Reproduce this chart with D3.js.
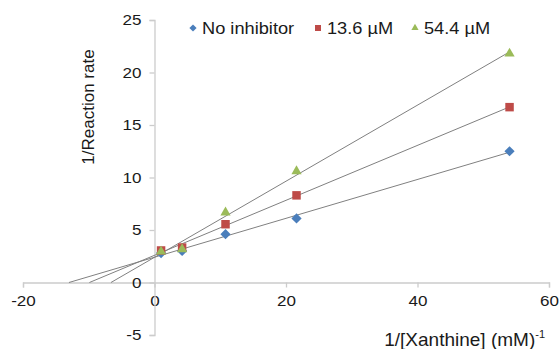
<!DOCTYPE html>
<html>
<head>
<meta charset="utf-8">
<script src="https://cdn.jsdelivr.net/npm/d3@7"></script>
<style>
  body { margin: 0; background: #fff; }
  svg { display: block; font-family: "Liberation Sans", Arial, sans-serif; }
</style>
</head>
<body>
<svg id="chart" width="560" height="349"></svg>
<script>
// ============= Data =============
const xValues = [1, 4.2, 10.8, 21.6, 54];
const noInhibitor = [2.8, 3.0, 4.6, 6.1, 12.5];
const inhib136 = [3.05, 3.33, 5.55, 8.3, 16.7];
const inhib544 = [2.95, 3.17, 6.67, 10.6, 21.8];
const seriesNames = ["No inhibitor", "13.6 µM", "54.4 µM"];
const xTicks = [-20, 0, 20, 40, 60];
const yTicks = [-5, 0, 5, 10, 15, 20, 25];

const COLORS = ["#4a7ebb", "#be4b48", "#9bbb59"];
const AXIS_COLOR = "#cccccc";
const TREND_COLOR = "#808080";
const TEXT_COLOR = "#1a1a1a";

const series = [noInhibitor, inhib136, inhib544].map((ys, i) => ({
  name: seriesNames[i],
  color: COLORS[i],
  points: xValues.map((x, j) => ({ x, y: ys[j] })),
}));

// least squares fit, used for the trend lines
const fitLine = (points) => {
  const mx = d3.mean(points, (d) => d.x);
  const my = d3.mean(points, (d) => d.y);
  const sxy = d3.sum(points, (d) => (d.x - mx) * (d.y - my));
  const sxx = d3.sum(points, (d) => (d.x - mx) ** 2);
  const slope = sxy / sxx;
  return { slope, intercept: my - slope * mx };
};

// the source picture is a little wider than tall, so text is stretched in x
const TICK_STRETCH = 1.1;
const LEGEND_STRETCH = 1.14;

// ============= Plot =============
const svg = d3.select("#chart");
const xScale = d3.scaleLinear().domain([-20, 60]).range([23, 549]);
const yScale = d3.scaleLinear().domain([-5, 25]).range([335, 20]);
const plainFormat = (d) => String(d);

// x axis along y = 0
const xAxis = svg
  .append("g")
  .attr("transform", `translate(0,${yScale(0)})`)
  .call(d3.axisBottom(xScale).tickValues(xTicks).tickSize(5).tickPadding(8).tickFormat(plainFormat));

// y axis along x = 0
const yAxis = svg
  .append("g")
  .attr("transform", `translate(${xScale(0)},0)`)
  .call(d3.axisLeft(yScale).tickValues(yTicks).tickSize(5).tickPadding(8).tickFormat(plainFormat));

[xAxis, yAxis].forEach((axis) => {
  axis.select(".domain").attr("stroke", AXIS_COLOR).attr("stroke-width", 1.3);
  axis.selectAll(".tick line").attr("stroke", AXIS_COLOR).attr("stroke-width", 1.3);
  axis
    .selectAll("text")
    .style("font-size", "15.5px")
    .attr("fill", TEXT_COLOR)
    .attr("transform", `scale(${TICK_STRETCH},1)`);
});
yAxis.selectAll(".tick text").attr("x", -13 / TICK_STRETCH);

// trend lines from the x intercept to the last point
series.forEach((s) => {
  const { slope, intercept } = fitLine(s.points);
  const x0 = -intercept / slope;
  const x1 = d3.max(s.points, (d) => d.x);
  svg
    .append("line")
    .attr("x1", xScale(x0))
    .attr("y1", yScale(0))
    .attr("x2", xScale(x1))
    .attr("y2", yScale(slope * x1 + intercept))
    .attr("stroke", TREND_COLOR)
    .attr("stroke-width", 1);
});

// diamond = square turned 45 degrees
const markers = [
  { type: d3.symbolSquare, size: 52, rotate: 45 },
  { type: d3.symbolSquare, size: 72, rotate: 0 },
  { type: d3.symbolTriangle, size: 45, rotate: 0 },
];

series.forEach((s, i) => {
  const m = markers[i];
  svg
    .append("g")
    .selectAll("path")
    .data(s.points)
    .enter()
    .append("path")
    .attr("d", d3.symbol().type(m.type).size(m.size))
    .attr("transform", (d) => `translate(${xScale(d.x)},${yScale(d.y)}) rotate(${m.rotate})`)
    .attr("fill", s.color);
});

// ============= Legend =============
const legendX = [193, 318, 415];
series.forEach((s, i) => {
  const m = markers[i];
  const item = svg.append("g").attr("transform", `translate(${legendX[i]},28)`);
  item
    .append("path")
    .attr("d", d3.symbol().type(m.type).size(m.size * 0.5))
    .attr("transform", `rotate(${m.rotate})`)
    .attr("fill", s.color);
  item
    .append("text")
    .attr("x", 9 / LEGEND_STRETCH)
    .attr("y", 6)
    .attr("transform", `scale(${LEGEND_STRETCH},1)`)
    .style("font-size", "16px")
    .attr("fill", TEXT_COLOR)
    .text(s.name);
});

// ============= Axis titles =============
svg
  .append("text")
  .attr("transform", "translate(94,107) rotate(-90)")
  .attr("text-anchor", "middle")
  .style("font-size", "17px")
  .attr("fill", TEXT_COLOR)
  .text("1/Reaction rate");

const xTitle = svg
  .append("text")
  .attr("x", 545)
  .attr("y", 346)
  .attr("text-anchor", "end")
  .style("font-size", "19px")
  .attr("fill", TEXT_COLOR);
xTitle.append("tspan").text("1/[Xanthine] (mM)");
xTitle.append("tspan").attr("dy", -8).style("font-size", "11px").text("-1");
</script>
</body>
</html>
